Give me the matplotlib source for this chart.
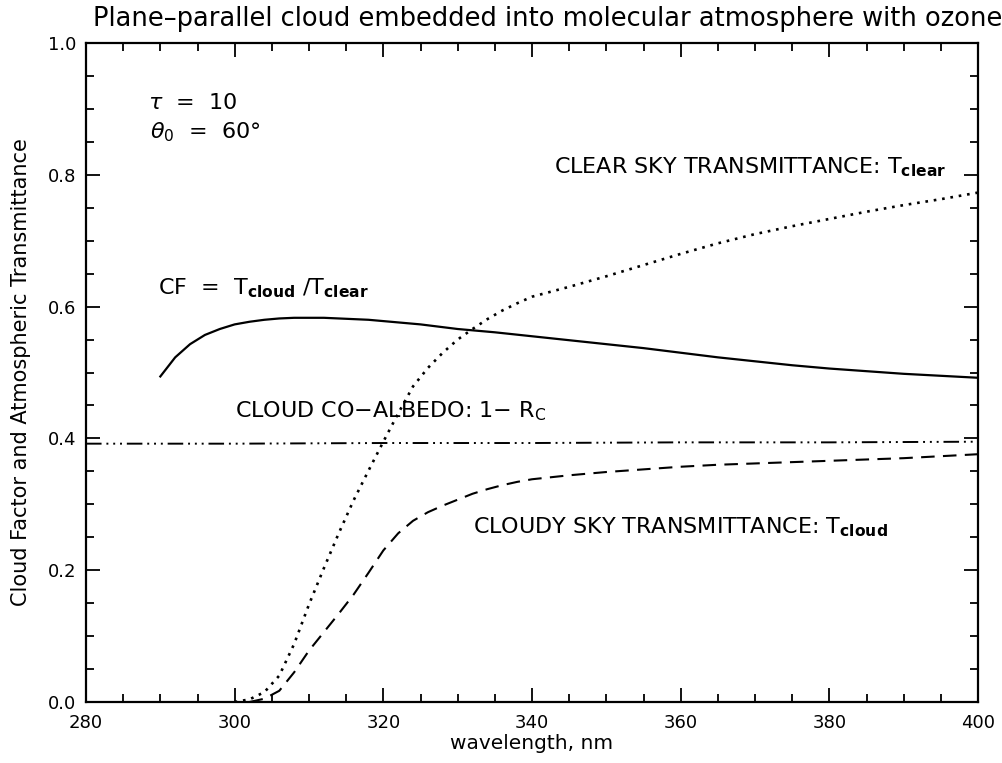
import matplotlib
matplotlib.use("Agg")
import matplotlib.pyplot as plt
from matplotlib.ticker import MultipleLocator

# ---- data ----
wl_cf = [290, 292, 294, 296, 298, 300, 302, 304, 306, 308, 310, 312, 314, 316, 318,
         320, 325, 330, 335, 340, 345, 350, 355, 360, 365, 370, 375, 380, 385, 390, 395, 400]
cf = [0.494, 0.523, 0.543, 0.557, 0.566, 0.573, 0.577, 0.580, 0.582, 0.583, 0.583, 0.583,
      0.582, 0.581, 0.580, 0.578, 0.573, 0.566, 0.561, 0.555, 0.549, 0.543, 0.537, 0.530,
      0.523, 0.517, 0.511, 0.506, 0.502, 0.498, 0.495, 0.492]

wl_clear = [300, 302, 304, 306, 308, 310, 312, 314, 316, 318, 320, 322, 324, 326, 328,
            330, 332, 334, 336, 338, 340, 345, 350, 355, 360, 365, 370, 375, 380, 385,
            390, 395, 400]
t_clear = [0.0, 0.004, 0.015, 0.040, 0.088, 0.148, 0.203, 0.256, 0.306, 0.351, 0.395,
           0.438, 0.479, 0.507, 0.530, 0.550, 0.566, 0.581, 0.594, 0.605, 0.615, 0.630,
           0.646, 0.663, 0.680, 0.696, 0.710, 0.722, 0.733, 0.744, 0.754, 0.763, 0.773]

wl_cloud = [302, 304, 306, 308, 310, 312, 314, 316, 318, 320, 322, 324, 326, 328, 330,
            332, 334, 336, 338, 340, 345, 350, 355, 360, 365, 370, 375, 380, 385, 390,
            395, 400]
t_cloud = [0.0, 0.005, 0.017, 0.045, 0.078, 0.106, 0.134, 0.163, 0.196, 0.230, 0.256,
           0.275, 0.288, 0.298, 0.307, 0.316, 0.323, 0.329, 0.334, 0.338, 0.344, 0.349,
           0.353, 0.357, 0.360, 0.362, 0.364, 0.366, 0.368, 0.370, 0.373, 0.376]

wl_coalb = [280, 300, 320, 340, 360, 380, 400]
coalbedo = [0.392, 0.392, 0.393, 0.393, 0.394, 0.394, 0.395]

x_ticks = [280, 300, 320, 340, 360, 380, 400]
y_ticks = [0.0, 0.2, 0.4, 0.6, 0.8, 1.0]

plt.rcParams['font.family'] = ['DejaVu Sans']
plt.rcParams['mathtext.fontset'] = 'dejavusans'

fig = plt.figure(figsize=(10.02, 7.63), dpi=100)
ax = fig.add_axes([86 / 1002, 1 - 702 / 763, (978 - 86) / 1002, (702 - 43) / 763])

ax.plot(wl_cf, cf, color='black', lw=1.6, ls='-')
ax.plot(wl_clear, t_clear, color='black', lw=1.9, ls=(0, (1, 2.2)))
ax.plot(wl_cloud, t_cloud, color='black', lw=1.5, ls=(0, (6.5, 4)))
ax.plot(wl_coalb, coalbedo, color='black', lw=1.4,
        ls=(0, (8, 2.5, 1, 2.5, 1, 2.5, 1, 2.5)))

ax.set_xlim(280, 400)
ax.set_ylim(0, 1.0)
ax.set_xticks(x_ticks)
ax.set_yticks(y_ticks)
ax.set_xticklabels([str(v) for v in x_ticks])
ax.set_yticklabels([f"{v:.1f}" for v in y_ticks])
ax.xaxis.set_minor_locator(MultipleLocator(5))
ax.yaxis.set_minor_locator(MultipleLocator(0.05))
ax.tick_params(which='both', direction='in', top=True, right=True, width=1.3,
               labelsize=13)
ax.tick_params(which='major', length=10)
ax.tick_params(which='minor', length=5.5)
ax.tick_params(axis='x', pad=9)
ax.tick_params(axis='y', pad=7)
for s in ax.spines.values():
    s.set_linewidth(1.6)

ax.set_xlabel("wavelength, nm", fontsize=14.5, labelpad=1)
ax.set_ylabel("Cloud Factor and Atmospheric Transmittance", fontsize=15, labelpad=12)
fig.text(548 / 1002, 1 - 19 / 763,
         "Plane\u2013parallel cloud embedded into molecular atmosphere with ozone",
         ha='center', va='center', fontsize=18.5)

fs = 16
ax.text(288.4, 0.909, r"$\tau$  =  10", fontsize=fs, va='center', ha='left')
ax.text(288.6, 0.865, r"$\theta_0$  =  60°", fontsize=fs, va='center', ha='left')
ax.text(289.7, 0.628, r"CF  =  T$_{\mathbf{cloud}}$ /T$_{\mathbf{clear}}$", fontsize=fs,
        va='center', ha='left')
ax.text(300.0, 0.441, r"CLOUD CO$-$ALBEDO: 1$-$ R$_{\mathrm{C}}$", fontsize=fs,
        va='center', ha='left')
ax.text(343.0, 0.812, r"CLEAR SKY TRANSMITTANCE: T$_{\mathbf{clear}}$", fontsize=fs,
        va='center', ha='left')
ax.text(332.0, 0.265, r"CLOUDY SKY TRANSMITTANCE: T$_{\mathbf{cloud}}$", fontsize=fs,
        va='center', ha='left')

fig.savefig("out.png", dpi=100)
